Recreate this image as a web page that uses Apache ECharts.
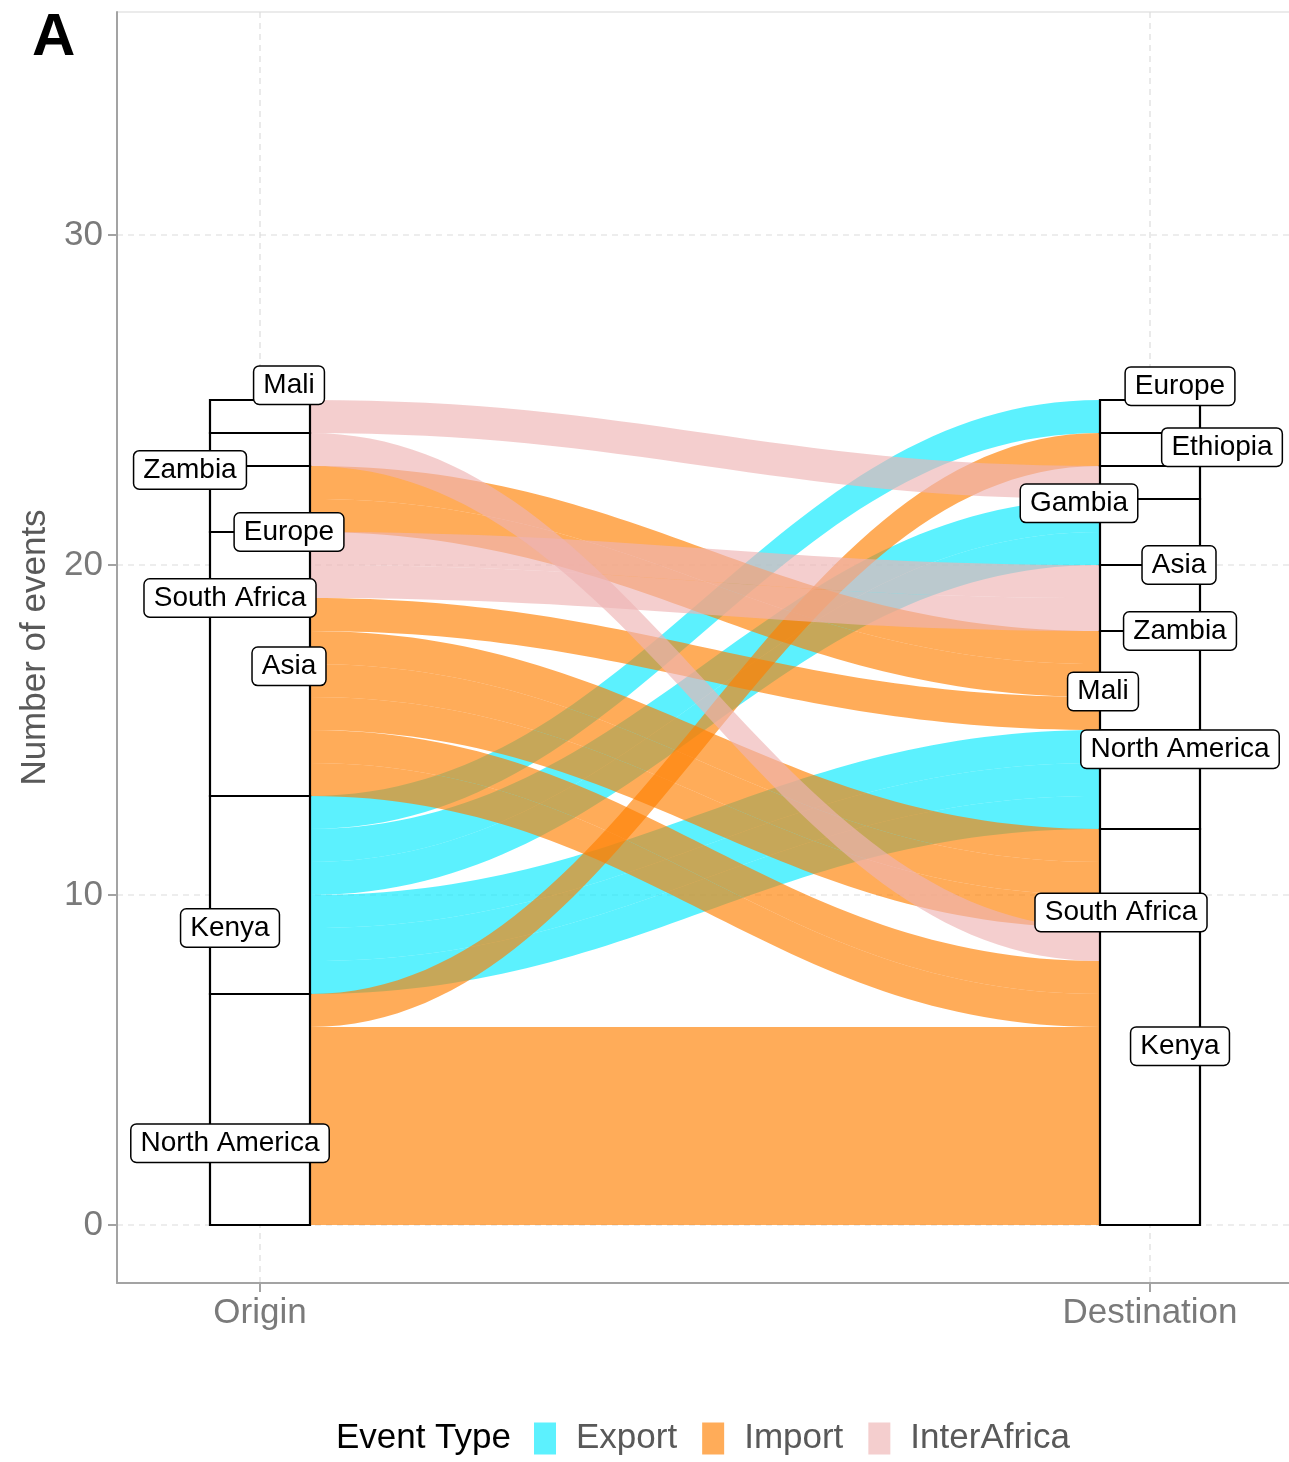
<!DOCTYPE html>
<html>
<head>
<meta charset="utf-8">
<script src="https://cdn.jsdelivr.net/npm/echarts@6/dist/echarts.min.js"></script>
<style>
  html, body { margin: 0; padding: 0; background: #ffffff; }
  #chart { width: 1289px; height: 1462px; }
</style>
</head>
<body>
<div id="chart"></div>
<script>
// Strata on each axis, listed bottom to top
const originStrata = ['North America', 'Kenya', 'Asia', 'South Africa', 'Europe', 'Zambia', 'Mali'];
const destStrata = ['Kenya', 'South Africa', 'North America', 'Mali', 'Zambia', 'Asia', 'Gambia', 'Ethiopia', 'Europe'];
const eventTypes = ['Export', 'Import', 'InterAfrica'];

// One entry per origin -> destination route
const flowOrigin = ['North America', 'North America', 'Kenya', 'Kenya', 'Kenya', 'Asia', 'Asia', 'Asia', 'South Africa', 'Europe', 'Zambia', 'Mali'];
const flowDest = ['Kenya', 'Ethiopia', 'North America', 'Asia', 'Europe', 'Kenya', 'South Africa', 'Mali', 'Zambia', 'Mali', 'Kenya', 'Gambia'];
const flowType = ['Import', 'Import', 'Export', 'Export', 'Export', 'Import', 'Import', 'Import', 'InterAfrica', 'Import', 'InterAfrica', 'InterAfrica'];
const flowCount = [6, 1, 3, 2, 1, 2, 3, 1, 2, 2, 1, 1];

const yTicks = [0, 10, 20, 30];
const xTicks = [1, 2];
const axisNames = ['Origin', 'Destination'];

// ---- styling / layout ----
const FONT = '"Liberation Sans", Arial, Helvetica, sans-serif';
const TYPE_RGB = { Export: [4, 234, 254], Import: [255, 127, 0], InterAfrica: [238, 180, 180] };
const FLOW_ALPHA = 0.65;
const HALF_W = 50 / 890;        // half width of a stratum box, in x units
const BEND = 0.42;              // horizontal reach of the flow curve handles
const Y_MIN = -58 / 33, Y_MAX = 1213 / 33;
const X_MIN = 1 - 143 / 890, X_MAX = 2 + 139 / 890;

// Label nudges: [dx in px, dy in y units] from the stratum centre
const originLabelNudge = {
  'North America': [-30, -1.02], 'Kenya': [-30, -1.0], 'Asia': [29, 0.93],
  'South Africa': [-30, -1.0], 'Europe': [29, -1.0], 'Zambia': [-70, -0.62], 'Mali': [29, 0.95]
};
const destLabelNudge = {
  'Kenya': [30, 0.92], 'South Africa': [-29, -1.03], 'North America': [30, 0.92],
  'Mali': [-47, -0.33], 'Zambia': [30, -1.0], 'Asia': [29, -1.0],
  'Gambia': [-71, -0.63], 'Ethiopia': [72, 0.07], 'Europe': [30, 0.92]
};

const rgba = (t) => 'rgba(' + TYPE_RGB[t].join(',') + ',' + FLOW_ALPHA + ')';

// ---- stacking: position each route inside its origin and destination strata ----
const flows = flowOrigin.map((o, i) => ({
  o, d: flowDest[i], type: flowType[i], n: flowCount[i],
  oi: originStrata.indexOf(o), di: destStrata.indexOf(flowDest[i])
}));

function stack(strata, key, orderKey, posKey) {
  const bounds = {};
  let acc = 0;
  strata.forEach(s => {
    const start = acc;
    flows.filter(f => f[key] === s)
      .sort((a, b) => a[orderKey] - b[orderKey])
      .forEach(f => { f[posKey] = acc; acc += f.n; });
    bounds[s] = [start, acc];
  });
  return bounds;
}
const originBounds = stack(originStrata, 'o', 'di', 'oy');
const destBounds = stack(destStrata, 'd', 'oi', 'dy');

// Each event is its own one-unit ribbon
const unitsByType = {};
eventTypes.forEach(t => { unitsByType[t] = []; });
flows.forEach(f => {
  for (let k = 0; k < f.n; k++) unitsByType[f.type].push([f.oy + k, f.dy + k]);
});

const strataData = [];
originStrata.forEach(s => strataData.push([1, originBounds[s][0], originBounds[s][1]]));
destStrata.forEach(s => strataData.push([2, destBounds[s][0], destBounds[s][1]]));

const labelData = [];
originStrata.forEach(s => {
  const c = (originBounds[s][0] + originBounds[s][1]) / 2, nd = originLabelNudge[s];
  labelData.push({ name: s, value: [1, c + nd[1]], label: { offset: [nd[0], 0] } });
});
destStrata.forEach(s => {
  const c = (destBounds[s][0] + destBounds[s][1]) / 2, nd = destLabelNudge[s];
  labelData.push({ name: s, value: [2, c + nd[1]], label: { offset: [nd[0], 0] } });
});

// ---- renderers ----
function renderFlow(type) {
  return function (params, api) {
    const oy = api.value(0), dy = api.value(1);
    const a0 = api.coord([1 + HALF_W, oy]), a1 = api.coord([1 + HALF_W, oy + 1]);
    const b0 = api.coord([2 - HALF_W, dy]), b1 = api.coord([2 - HALF_W, dy + 1]);
    const x0 = a0[0], x1 = b0[0], c = (x1 - x0) * BEND;
    const d = 'M' + x0 + ',' + a1[1] +
      ' C' + (x0 + c) + ',' + a1[1] + ' ' + (x1 - c) + ',' + b1[1] + ' ' + x1 + ',' + b1[1] +
      ' L' + x1 + ',' + b0[1] +
      ' C' + (x1 - c) + ',' + b0[1] + ' ' + (x0 + c) + ',' + a0[1] + ' ' + x0 + ',' + a0[1] + ' Z';
    return { type: 'path', shape: { pathData: d }, style: { fill: rgba(type) } };
  };
}

function renderStratum(params, api) {
  const x = api.value(0), y0 = api.value(1), y1 = api.value(2);
  const p = api.coord([x - HALF_W, y1]), q = api.coord([x + HALF_W, y0]);
  return {
    type: 'rect',
    shape: { x: p[0], y: p[1], width: q[0] - p[0], height: q[1] - p[1] },
    style: { fill: '#ffffff', stroke: '#000000', lineWidth: 2.2 }
  };
}

function renderGrid(params, api) {
  const cs = params.coordSys;
  const kind = api.value(0), v = api.value(1);
  let shape;
  if (kind === 0) {
    const y = api.coord([X_MIN, v])[1];
    shape = { x1: cs.x, y1: y, x2: cs.x + cs.width, y2: y };
  } else {
    const x = api.coord([v, Y_MIN])[0];
    shape = { x1: x, y1: cs.y, x2: x, y2: cs.y + cs.height };
  }
  return { type: 'line', shape, style: { stroke: '#dcdcdc', lineWidth: 1.2, lineDash: [6, 5] } };
}

const gridData = yTicks.map(v => [0, v]).concat(xTicks.map(v => [1, v]));

const chart = echarts.init(document.getElementById('chart'), null, { renderer: 'canvas' });

const axisCommon = {
  axisLine: { show: true, onZero: false, lineStyle: { color: '#a3a3a3', width: 2 } },
  splitLine: { show: false }
};

chart.setOption({
  animation: false,
  backgroundColor: '#ffffff',
  textStyle: { fontFamily: FONT },
  grid: { left: 117, right: 0, top: 12, bottom: 179, containLabel: false },
  xAxis: Object.assign({
    type: 'value', min: X_MIN, max: X_MAX,
    axisTick: { show: true, customValues: xTicks, length: 9, lineStyle: { color: '#a3a3a3', width: 2 } },
    axisLabel: {
      customValues: xTicks, formatter: v => axisNames[Math.round(v) - 1] || '',
      fontSize: 35, color: '#7a7a7a', margin: 13, fontFamily: FONT
    }
  }, axisCommon),
  yAxis: Object.assign({
    type: 'value', min: Y_MIN, max: Y_MAX,
    axisTick: { show: true, customValues: yTicks, length: 9, lineStyle: { color: '#a3a3a3', width: 2 } },
    axisLabel: { customValues: yTicks, fontSize: 35, color: '#7a7a7a', margin: 14, fontFamily: FONT },
    name: 'Number of events', nameLocation: 'middle', nameRotate: 90, nameGap: 64,
    nameTextStyle: { fontSize: 35, color: '#595959', fontFamily: FONT }
  }, axisCommon),
  legend: {
    left: 534, top: 1421, padding: 0, itemWidth: 22, itemHeight: 32, itemGap: 25,
    icon: 'rect', selectedMode: false, data: eventTypes,
    textStyle: { fontSize: 35, color: '#595959', fontFamily: FONT, padding: [0, 0, 0, 15] }
  },
  graphic: [
    { type: 'line', shape: { x1: 117, y1: 12, x2: 1289, y2: 12 }, style: { stroke: '#ebebeb', lineWidth: 2 }, z: -1 },
    { type: 'text', left: 32, top: 8, style: { text: 'A', font: 'bold 60px ' + FONT, fill: '#000000' } },
    { type: 'text', style: { text: 'Event Type', x: 511, y: 1438, align: 'right', verticalAlign: 'middle', font: '35px ' + FONT, fill: '#000000' } }
  ],
  series: [
    { type: 'custom', name: 'grid', silent: true, z: 0, renderItem: renderGrid, data: gridData, encode: { x: -1, y: -1 } }
  ].concat(eventTypes.map(t => ({
    type: 'custom', name: t, z: 2, silent: true,
    itemStyle: { color: rgba(t) },
    renderItem: renderFlow(t), data: unitsByType[t], encode: { x: -1, y: -1 }
  }))).concat([
    { type: 'custom', name: 'strata', z: 3, silent: true, renderItem: renderStratum, data: strataData, encode: { x: -1, y: -1 } },
    {
      type: 'scatter', name: 'labels', z: 4, silent: true, symbolSize: 1,
      itemStyle: { color: 'rgba(0,0,0,0)', opacity: 1 },
      data: labelData,
      label: {
        show: true, position: 'inside', formatter: '{b}', color: '#000000', opacity: 1,
        fontSize: 28, fontFamily: FONT, backgroundColor: '#ffffff',
        borderColor: '#000000', borderWidth: 1.5, borderRadius: 5, padding: [5, 9, 4, 9]
      }
    }
  ])
});
</script>
</body>
</html>
